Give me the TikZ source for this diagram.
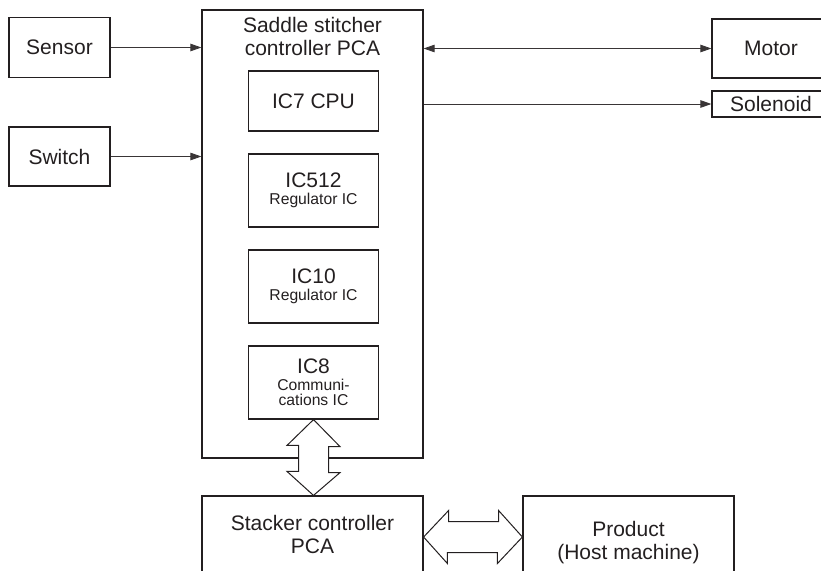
\documentclass[tikz,border=0pt]{standalone}
\usepackage{fontspec}
\setmainfont{Liberation Sans}
\usepackage{xcolor}
\usepackage{tikz}
\usetikzlibrary{arrows.meta}

\definecolor{ink}{HTML}{231F20}
\newcommand{\bigtxt}{\fontsize{21}{23}\selectfont}
\newcommand{\smalltxt}{\fontsize{15.7}{16}\selectfont}

\begin{document}
\begin{tikzpicture}[x=1pt,y=-1pt,
    every node/.style={draw=ink,line width=1.2pt,inner sep=0pt,align=center,
                       font=\bigtxt,text=ink},
    conn/.style={draw=ink!90,line width=0.9pt,-{Triangle[length=11pt,width=7.5pt]}},
    bigarrow/.style={draw=ink,line width=1pt,fill=white,line join=miter}]
  \useasboundingbox (0,0) rectangle (821,570);
  \clip (0,0) rectangle (821,570);

  % outer boards
  \node[minimum width=221,minimum height=448] (saddle) at (312.5,234) {};
  \node[draw=none,anchor=north] (title) at (312.5,17)
       {Saddle stitcher\\controller PCA};
  \node[minimum width=221,minimum height=76] (stacker) at (312.5,534)
       {Stacker controller\\PCA};
  \node[minimum width=211,minimum height=94] (product) at (628.5,543)
       {Product\\(Host machine)};

  % parts on the saddle stitcher board
  \foreach \nm/\yy/\hh/\txt in {ic7/101/60/{IC7 CPU},
                               ic512/190.5/73/{IC512\\[-6pt]\smalltxt Regulator IC},
                               ic10/286.5/73/{IC10\\[-6pt]\smalltxt Regulator IC},
                               ic8/382.5/73/{IC8\\[-6pt]\smalltxt Communi-\\[-8pt]\smalltxt cations IC}}{
    \node[minimum width=130,minimum height=\hh] (\nm) at (313.5,\yy) {\txt};
  }

  % inputs and loads
  \node[minimum width=101,minimum height=60] (sensor) at (59.5,47.5) {Sensor};
  \node[minimum width=101,minimum height=59] (switch) at (59.5,156.5) {Switch};
  \node[minimum width=118,minimum height=59] (motor) at (771,48.5) {Motor};
  \node[minimum width=118,minimum height=26] (solenoid) at (771,104) {Solenoid};

  \draw[conn] (sensor.east) -- (sensor.east -| saddle.west);
  \draw[conn] (switch.east) -- (switch.east -| saddle.west);
  \draw[conn,{Triangle[length=11pt,width=7.5pt]}-{Triangle[length=11pt,width=7.5pt]}]
       (motor.west -| saddle.east) -- (motor.west);
  \draw[conn] (solenoid.west -| saddle.east) -- (solenoid.west);

  % block arrows
  \draw[bigarrow] (ic8.south) -- ++(26.5,27) -- ++(-11.5,0) -- ++(0,26)
       -- ++(11.5,0) -- (ic8.south |- stacker.north) -- ++(-26.5,-24)
       -- ++(11.5,0) -- ++(0,-26) -- ++(-11.5,0) -- cycle;
  \coordinate (hmid) at (0,537);
  \draw[bigarrow] (stacker.east |- hmid) -- ++(25,-26.5) -- ++(0,11) -- ++(50,0)
       -- ++(0,-11) -- (product.west |- hmid) -- ++(-25,26.5) -- ++(0,-11)
       -- ++(-50,0) -- ++(0,11) -- cycle;
\end{tikzpicture}
\end{document}
